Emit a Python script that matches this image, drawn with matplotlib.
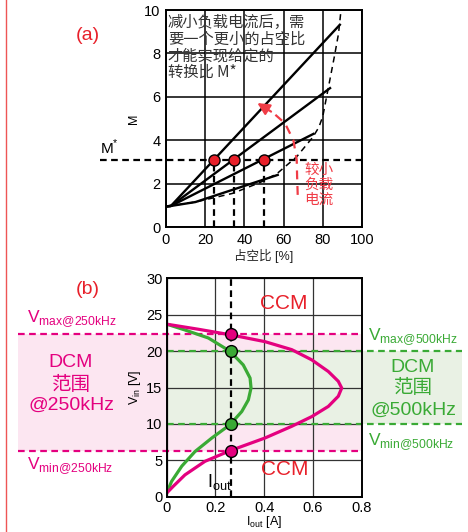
import matplotlib
matplotlib.use('Agg')
import matplotlib.pyplot as plt
import matplotlib.transforms as transforms
from matplotlib.patches import Rectangle, FancyArrowPatch

plt.rcParams['font.family'] = ['Liberation Sans', 'Noto Sans CJK SC', 'DejaVu Sans']
plt.rcParams['mathtext.fontset'] = 'custom'
plt.rcParams['mathtext.rm'] = 'Liberation Sans'

# ---- data, panel (a): conversion ratio M vs duty cycle ----
duty_ticks = [0, 20, 40, 60, 80, 100]
m_ticks = [0, 2, 4, 6, 8, 10]
line_duty = [[0, 2.5, 88.7], [0, 2.5, 83.7], [0, 2.5, 75.2], [0, 2.5, 15, 57]]
line_m = [[0.95, 0.97, 9.32], [0.95, 0.97, 6.4], [0.95, 0.97, 4.29], [0.95, 0.97, 1.15, 2.4]]
bound_duty = [0, 15, 34, 48, 56.5, 66.7, 75, 78, 80, 81.5, 83, 84.5, 86, 88, 89.3]
bound_m = [0.95, 1.15, 1.55, 2.05, 2.45, 3.24, 4.15, 4.6, 5.1, 5.8, 6.5, 7.2, 7.9, 8.9, 10]
m_star = 3.07
dot_duty = [24.6, 34.7, 50]
arrow_duty = [67.2, 66.9, 66.7, 65.0, 60.7, 54.8, 45.4]
arrow_m = [1.48, 2.3, 3.09, 4.0, 4.78, 5.25, 5.78]
note_lines = ['减小负载电流后，需', '要一个更小的占空比', '才能实现给定的', '转换比 M*']
load_lines = ['较小', '负载', '电流']

# ---- data, panel (b): Vin vs Iout boundary ----
iout_ticks = [0, 0.2, 0.4, 0.6, 0.8]
iout_labels = ['0', '0.2', '0.4', '0.6', '0.8']
vin_ticks = [0, 5, 10, 15, 20, 25, 30]
mag_i = [0.0, 0.027, 0.075, 0.157, 0.26, 0.403, 0.513, 0.595, 0.663, 0.704, 0.718,
         0.704, 0.663, 0.595, 0.513, 0.403, 0.26, 0.13, 0.0]
mag_v = [0.5, 1.43, 3.0, 4.86, 6.32, 8.06, 9.67, 11.0, 12.4, 13.8, 14.93,
         15.85, 17.2, 18.8, 20.2, 21.3, 22.25, 23.0, 23.7]
grn_i = [0.0, 0.02, 0.062, 0.116, 0.185, 0.26, 0.308, 0.335, 0.346, 0.342, 0.314,
         0.26, 0.171, 0.075, 0.0]
grn_v = [0.5, 2.1, 4.2, 6.2, 8.06, 9.9, 11.7, 13.3, 14.93, 16.3, 18.1,
         19.97, 21.8, 22.9, 23.7]
iout = 0.263
v250 = [6.3, 22.3]
v500 = [10, 20]
dcm250_lines = ['DCM', '范围', '@250kHz']
dcm500_lines = ['DCM', '范围', '@500kHz']

MAG = '#e4007f'
GRN = '#3aaa35'
RED = '#e8202a'

fig = plt.figure(figsize=(4.68, 5.32), dpi=100)
W, H = 468.0, 532.0

# ================= (a) =================
ax1 = fig.add_axes([166 / W, 1 - 227 / H, 196 / W, 217 / H])
ax1.set_xlim(0, 100)
ax1.set_ylim(0, 10)
ax1.set_xticks(duty_ticks)
ax1.set_yticks(m_ticks)
ax1.grid(True, color='black', lw=1.1)
ax1.set_axisbelow(True)
ax1.tick_params(length=0, labelsize=10.5, pad=4)
for s in ax1.spines.values():
    s.set_linewidth(1.4)

for d, m in zip(line_duty, line_m):
    ax1.plot(d, m, color='black', lw=1.7, zorder=3)
ax1.plot(bound_duty, bound_m, color='black', lw=1.1, ls=(0, (4, 3)), zorder=3)

tr1 = transforms.blended_transform_factory(fig.transFigure, ax1.transData)
ax1.plot([100 / W, 362 / W], [m_star, m_star], transform=tr1, color='black',
         lw=1.6, ls=(0, (3, 2)), clip_on=False, zorder=3)
for d in dot_duty:
    ax1.plot([d, d], [0, m_star], color='black', lw=1.6, ls=(0, (3, 2)), zorder=3)
ax1.plot(dot_duty, [m_star] * len(dot_duty), 'o', ms=8, mfc=RED, mec='black',
         mew=1, zorder=5)

ax1.plot(arrow_duty[:-1], arrow_m[:-1], color='#f03c46', lw=1.6, ls=(0, (4, 3)), zorder=4)
ax1.add_patch(FancyArrowPatch((arrow_duty[-2], arrow_m[-2]), (arrow_duty[-1], arrow_m[-1]),
                              arrowstyle='-|>', mutation_scale=18, color='#f03c46',
                              lw=1.6, zorder=4))

# note text, one line at a time
note_y = [9.41, 8.63, 7.89, 7.15]
for txt, y in zip(note_lines, note_y):
    ax1.text(1.0, y, txt, fontsize=11, color='#333333', va='center', ha='left',
             family=['Noto Sans CJK SC'], zorder=6)
load_y = [2.63, 1.94, 1.25]
for txt, y in zip(load_lines, load_y):
    ax1.text(70.5, y, txt, fontsize=10.5, color='#f03c46', va='center', ha='left',
             family=['Noto Sans CJK SC'], zorder=6)

ax1.text(100 / W, 3.65, 'M$^{*}$', transform=tr1, fontsize=11, ha='left', va='center')
ax1.set_xlabel('占空比 [%]', fontsize=9, labelpad=2, color='#222222')
ax1.set_ylabel('M', fontsize=9, labelpad=3)
fig.text(88 / W, 1 - 35 / H, '(a)', color=RED, fontsize=14, ha='center', va='center')

# ================= (b) =================
ax2 = fig.add_axes([166.7 / W, 1 - 496.7 / H, 195 / W, 218.4 / H])
ax2.set_xlim(0, 0.8)
ax2.set_ylim(0, 30)
ax2.set_xticks(iout_ticks)
ax2.set_xticklabels(iout_labels)
ax2.set_yticks(vin_ticks)
ax2.grid(True, color='#333333', lw=0.9, zorder=0.5)
ax2.set_axisbelow(True)
ax2.tick_params(length=0, labelsize=10.5, pad=3)
for s in ax2.spines.values():
    s.set_linewidth(1.4)
    s.set_zorder(6)

tr2 = transforms.blended_transform_factory(fig.transFigure, ax2.transData)
ax2.add_patch(Rectangle((18 / W, v250[0]), (362 - 18) / W, v250[1] - v250[0],
                        transform=tr2, color='#fce6f1', lw=0, clip_on=False, zorder=0.2))
ax2.add_patch(Rectangle((166.7 / W, v500[0]), (462 - 166.7) / W, v500[1] - v500[0],
                        transform=tr2, color='#e9f1e4', lw=0, clip_on=False, zorder=0.3))
for v in v250:
    ax2.plot([18 / W, 362 / W], [v, v], transform=tr2, color=MAG, lw=1.6,
             ls=(0, (3, 2)), clip_on=False, zorder=2)
for v in v500:
    ax2.plot([166.7 / W, 462 / W], [v, v], transform=tr2, color=GRN, lw=1.6,
             ls=(0, (3, 2)), clip_on=False, zorder=2)

ax2.plot([iout, iout], [0, 30], color='black', lw=1.6, ls=(0, (3, 2)), zorder=3)
ax2.plot(grn_i, grn_v, color=GRN, lw=2.3, zorder=4, solid_capstyle='round',
         solid_joinstyle='round')
ax2.plot(mag_i, mag_v, color=MAG, lw=2.3, zorder=4, solid_capstyle='round',
         solid_joinstyle='round')
ax2.plot([iout] * 2, v250, 'o', ms=8.5, mfc=MAG, mec='black', mew=1, zorder=5)
ax2.plot([iout] * 2, v500, 'o', ms=8.5, mfc=GRN, mec='black', mew=1, zorder=5)

ax2.text(0.48, 26.6, 'CCM', color=RED, fontsize=15, ha='center', va='center', zorder=5)
ax2.text(0.485, 3.7, 'CCM', color=RED, fontsize=15, ha='center', va='center', zorder=5)
ax2.text(0.165, 0.6, 'I$_{\\mathregular{out}}$', fontsize=13, ha='left', va='bottom', zorder=5)

ax2.text(27 / W, 24.4, 'V$_{\\mathregular{max@250kHz}}$', transform=tr2, color=MAG,
         fontsize=12.5, ha='left', va='center')
ax2.text(27 / W, 4.2, 'V$_{\\mathregular{min@250kHz}}$', transform=tr2, color=MAG,
         fontsize=12.5, ha='left', va='center')
ax2.text(368 / W, 22.0, 'V$_{\\mathregular{max@500kHz}}$', transform=tr2, color=GRN,
         fontsize=12.5, ha='left', va='center')
ax2.text(368 / W, 7.6, 'V$_{\\mathregular{min@500kHz}}$', transform=tr2, color=GRN,
         fontsize=12.5, ha='left', va='center')

dcm250_y = [18.37, 15.34, 12.6]
for txt, y in zip(dcm250_lines, dcm250_y):
    ax2.text(71 / W, y, txt, transform=tr2, color=MAG, fontsize=14,
             ha='center', va='center')
dcm500_y = [17.8, 14.9, 11.9]
for txt, y in zip(dcm500_lines, dcm500_y):
    ax2.text(413 / W, y, txt, transform=tr2, color=GRN, fontsize=14,
             ha='center', va='center')

ax2.set_ylabel('V$_{\\mathregular{in}}$ [V]', fontsize=9, labelpad=2)
fig.text(264 / W, 2 / H, 'I$_{\\mathregular{out}}$ [A]', fontsize=9, ha='center', va='bottom')
fig.text(88 / W, 1 - 290 / H, '(b)', color=RED, fontsize=14, ha='center', va='center')

# red frame line at left edge
fig.add_artist(plt.Line2D([6 / W, 6 / W], [0, 1], color='#ee5555', lw=1.0))

fig.savefig('out.png', dpi=100)
